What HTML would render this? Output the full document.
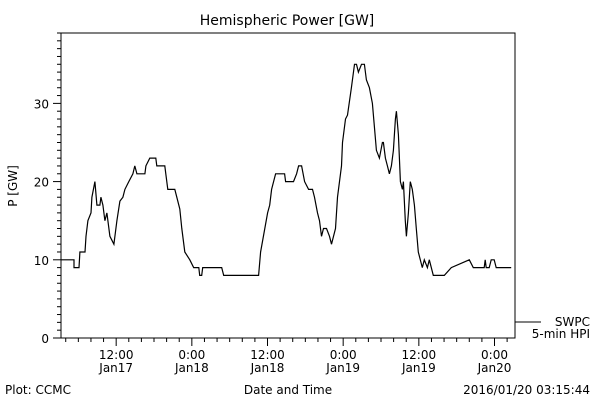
<!DOCTYPE html>
<html><head><meta charset="utf-8"><style>
body{margin:0;background:#fff;}
svg{display:block;font-family:"DejaVu Sans","Liberation Sans",sans-serif;}
</style></head><body>
<svg id="chart" width="600" height="400">
<text x="287" y="25" font-size="14" text-anchor="middle">Hemispheric Power [GW]</text>
<text x="0" y="0" font-size="12" text-anchor="middle" transform="translate(17,186) rotate(-90)">P [GW]</text>
<text x="288" y="394" font-size="12" text-anchor="middle">Date and Time</text>
<text x="5" y="394" font-size="12">Plot: CCMC</text>
<text x="590" y="394" font-size="12" text-anchor="end">2016/01/20 03:15:44</text>
<rect x="61" y="33" width="454" height="305" fill="none" stroke="#000" stroke-width="1"/>
<line x1="515" y1="322" x2="541" y2="322" stroke="#000"/>
<text x="590" y="326" font-size="12" text-anchor="end">SWPC</text>
<text x="590" y="338" font-size="12" text-anchor="end">5-min HPI</text>
<g id="axes"></g>
<g id="series"></g>
</svg>
<script>
const hours=[0,2.06,2.06,2.85,3.0,3.8,3.96,4.27,4.75,4.9,5.38,5.7,6.17,6.33,6.65,6.97,7.28,7.76,8.39,8.87,9.34,9.81,10.13,10.76,11.4,11.71,12.03,13.3,13.46,14.09,15.04,15.2,16.46,16.62,16.93,18.05,18.36,18.84,19.15,19.63,20.42,21.05,21.85,22.0,22.32,22.48,25.49,25.8,31.34,31.66,32.77,33.09,33.4,34.04,35.46,35.62,36.88,37.36,37.68,38.15,38.63,39.26,39.89,40.21,40.68,41.0,41.32,41.63,42.1,42.58,42.9,43.53,43.85,44.48,44.64,45.12,45.43,46.06,46.54,46.86,47.17,47.65,48.12,48.44,48.91,49.39,49.71,50.02,50.5,50.97,51.13,51.45,51.76,52.08,52.4,52.71,53.03,53.19,53.51,53.82,54.14,54.3,54.61,54.77,55.09,55.4,55.72,56.04,56.35,56.67,57.3,57.62,58.1,58.41,59.05,60.79,61.9,64.75,65.38,67.12,67.28,67.44,67.91,68.23,68.7,69.02,71.4];
const power=[10,10,9,9,11,11,13,15,16,18,20,17,17,18,17,15,16,13,12,15,17.5,18,19,20,21,22,21,21,22,23,23,22,22,21,19,19,18,16.5,14,11,10,9,9,8,8,9,9,8,8,11,16,17,19,21,21,20,20,21,22,22,20,19,19,18,16,15,13,14,14,13,12,14,18,22,25,28,28.5,32,35,35,34,35,35,33,32,30,27,24,23,25,25,23,22,21,22,24,28,29,26,20,19,20,15,13,16,20,19,17,14,11,9,10,9,10,8,8,9,10,9,9,10,9,9,10,10,9,9];
const yTicks=[0,10,20,30];
const xTickLabels=[["12:00","Jan17"],["0:00","Jan18"],["12:00","Jan18"],["0:00","Jan19"],["12:00","Jan19"],["0:00","Jan20"]];
const xTickHours=[8.75,20.75,32.75,44.75,56.75,68.75];
const NS="http://www.w3.org/2000/svg";
const X0=61,X1=515,Y0=338,Y1=33,TMAX=72,PMAX=39;
function xs(t){return X0+t/TMAX*(X1-X0);}
function ys(v){return Y0-v/PMAX*(Y0-Y1);}
const axes=document.getElementById('axes');
function mk(tag,attrs,parent){const e=document.createElementNS(NS,tag);for(const k in attrs)e.setAttribute(k,attrs[k]);parent.appendChild(e);return e;}
for(let v=0;v<=PMAX;v++){
  const major=v%10===0;
  const l=mk('line',{x1:X0-(major?8:4),x2:X0,y1:ys(v),y2:ys(v),stroke:'#000'},axes);
  
  
}
yTicks.forEach(v=>{
  const t=mk('text',{x:X0-12,y:ys(v)+5,'font-size':12,'text-anchor':'end'},axes);
  t.textContent=v;
  
  
});
for(let h=xTickHours[0]%2;h<=TMAX;h+=2){
  const major=xTickHours.some(m=>Math.abs(m-h)<0.01);
  const l=mk('line',{x1:xs(h),x2:xs(h),y1:Y0,y2:Y0+(major?8:4),stroke:'#000'},axes);
  
  
}
xTickHours.forEach((h,i)=>{
  const t1=mk('text',{x:xs(h),y:359,'font-size':12,'text-anchor':'middle'},axes);
  t1.textContent=xTickLabels[i][0];
  
  
  const t2=mk('text',{x:xs(h),y:372,'font-size':12,'text-anchor':'middle'},axes);
  t2.textContent=xTickLabels[i][1];
  
  
});
const pts=hours.map((h,i)=>xs(h).toFixed(1)+','+ys(power[i]).toFixed(1)).join(' ');
const pl=mk('polyline',{points:pts,fill:'none',stroke:'#000','stroke-width':1.2},document.getElementById('series'));


</script>
</body></html>
